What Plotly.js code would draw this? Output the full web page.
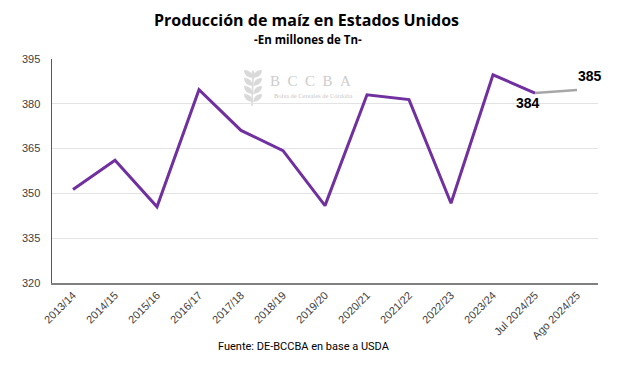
<!DOCTYPE html>
<html>
<head>
<meta charset="utf-8">
<script src="https://cdn.plot.ly/plotly-3.0.1.min.js"></script>
<style>html,body{margin:0;padding:0;background:#fff;}#chart{width:640px;height:372px;}</style>
</head>
<body>
<div id="chart"></div>
<script>
const categories = ["2013/14","2014/15","2015/16","2016/17","2017/18","2018/19","2019/20","2020/21","2021/22","2022/23","2023/24","Jul 2024/25","Ago 2024/25"];
const produccion = [351.3, 361.1, 345.5, 384.7, 371.1, 364.3, 345.9, 383.0, 381.4, 346.7, 389.7, 383.6];
const proyeccionCats = ["Jul 2024/25","Ago 2024/25"];
const proyeccion = [383.6, 384.6];
const yTicks = [320, 335, 350, 365, 380, 395];

const purple = "#7030A0";
const grey = "#A6A6A6";

const traces = [
  {
    x: categories.slice(0, produccion.length),
    y: produccion,
    type: "scatter", mode: "lines",
    line: {color: purple, width: 3},
    hoverinfo: "skip"
  },
  {
    x: proyeccionCats,
    y: proyeccion,
    type: "scatter", mode: "lines",
    line: {color: grey, width: 2.5},
    hoverinfo: "skip"
  }
];

// plot-area geometry (pixels) used only for the decorative watermark
const M = {l: 52, r: 42, t: 59, b: 89};
const PW = 640 - M.l - M.r, PH = 372 - M.t - M.b;
const px = v => ((v - M.l) / PW).toFixed(4);
const py = v => ((372 - M.b - v) / PH).toFixed(4);

function leaf(sx, sy, dir) {
  const tx = sx + dir * 9, ty = sy - 8;
  return `M ${px(sx)},${py(sy)} Q ${px(sx + dir * 1)},${py(sy - 8)} ${px(tx)},${py(ty)} Q ${px(sx + dir * 9)},${py(sy - 1)} ${px(sx)},${py(sy)} Z`;
}
const shapes = [];
const stemX = 253;
[78, 86, 94, 102].forEach(yy => {
  shapes.push({type: "path", xref: "paper", yref: "paper", path: leaf(stemX, yy, -1),
    fillcolor: "#D9D9D9", line: {width: 0}, layer: "below"});
  shapes.push({type: "path", xref: "paper", yref: "paper", path: leaf(stemX, yy, 1),
    fillcolor: "#D9D9D9", line: {width: 0}, layer: "below"});
});
shapes.push({type: "path", xref: "paper", yref: "paper",
  path: `M ${px(stemX)},${py(70)} Q ${px(stemX - 4)},${py(75)} ${px(stemX)},${py(80)} Q ${px(stemX + 4)},${py(75)} ${px(stemX)},${py(70)} Z`,
  fillcolor: "#D9D9D9", line: {width: 0}, layer: "below"});
shapes.push({type: "line", xref: "paper", yref: "paper",
  x0: px(stemX), y0: py(76), x1: px(stemX - 1), y1: py(106),
  line: {color: "#D9D9D9", width: 1.5}, layer: "below"});

const lastMain = produccion.length - 1;
const annotations = [
  {x: categories[lastMain], y: produccion[lastMain], xref: "x", yref: "y",
   text: "<b>" + Math.round(produccion[lastMain]) + "</b>", showarrow: false,
   xanchor: "center", yanchor: "top", xshift: -7, yshift: 0,
   font: {family: "Liberation Sans, Arial, sans-serif", size: 14, color: "#000"}},
  {x: proyeccionCats[1], y: proyeccion[1], xref: "x", yref: "y",
   text: "<b>" + Math.round(proyeccion[1]) + "</b>", showarrow: false,
   xanchor: "left", yanchor: "bottom", xshift: -1, yshift: 4,
   font: {family: "Liberation Sans, Arial, sans-serif", size: 14, color: "#000"}},
  {x: 0.5, y: 1.175, xref: "paper", yref: "paper",
   text: "<b>Producción de maíz en Estados Unidos</b>", showarrow: false,
   xanchor: "center", yanchor: "middle", xshift: -19,
   font: {family: "Open Sans, Liberation Sans, sans-serif", size: 16, color: "#000"}},
  {x: 0.5, y: 1.085, xref: "paper", yref: "paper",
   text: "<b>-En millones de Tn-</b>", showarrow: false,
   xanchor: "center", yanchor: "middle", xshift: -17,
   font: {family: "Open Sans, Liberation Sans, sans-serif", size: 11.5, color: "#000"}},
  {x: 0.5, y: -0.285, xref: "paper", yref: "paper",
   text: "Fuente: DE-BCCBA en base a USDA", showarrow: false,
   xanchor: "center", yanchor: "middle", xshift: -21,
   font: {family: "Roboto, Liberation Sans, sans-serif", size: 11, color: "#000"}},
  {x: 0.5, y: 0.902, xref: "paper", yref: "paper",
   text: "B&nbsp;&nbsp;C&nbsp;&nbsp;C&nbsp;&nbsp;B&nbsp;&nbsp;A", showarrow: false,
   xanchor: "center", yanchor: "middle", xshift: -15,
   font: {family: "Liberation Serif, DejaVu Serif, serif", size: 15, color: "#CCCCCC"}},
  {x: 0.5, y: 0.835, xref: "paper", yref: "paper",
   text: "Bolsa de Cereales de Córdoba", showarrow: false,
   xanchor: "center", yanchor: "middle", xshift: -12,
   font: {family: "Liberation Serif, DejaVu Serif, serif", size: 6.5, color: "#C8C8C8"}}
];

const layout = {
  width: 640, height: 372,
  margin: M,
  paper_bgcolor: "#fff", plot_bgcolor: "#fff",
  showlegend: false,
  font: {family: "Liberation Sans, Arial, sans-serif", size: 11, color: "#404040"},
  xaxis: {
    type: "category", categoryorder: "array", categoryarray: categories,
    range: [-0.5, 12.5],
    tickangle: -45, ticks: "", showgrid: false, zeroline: false,
    showline: true, linecolor: "#808080", linewidth: 1.5,
    tickfont: {family: "Liberation Sans, Arial, sans-serif", size: 11, color: "#404040"},
    fixedrange: true
  },
  yaxis: {
    range: [320, 395], tickvals: yTicks, ticktext: yTicks.map(String),
    showgrid: true, gridcolor: "#E3E3E3", gridwidth: 1,
    zeroline: false, showline: true, linecolor: "#595959", linewidth: 1.5,
    ticks: "", ticklabelstandoff: 8,
    tickfont: {family: "Liberation Sans, Arial, sans-serif", size: 11, color: "#404040"},
    fixedrange: true
  },
  shapes: shapes,
  annotations: annotations
};

Plotly.newPlot("chart", traces, layout, {displayModeBar: false, staticPlot: true});
</script>
</body>
</html>
